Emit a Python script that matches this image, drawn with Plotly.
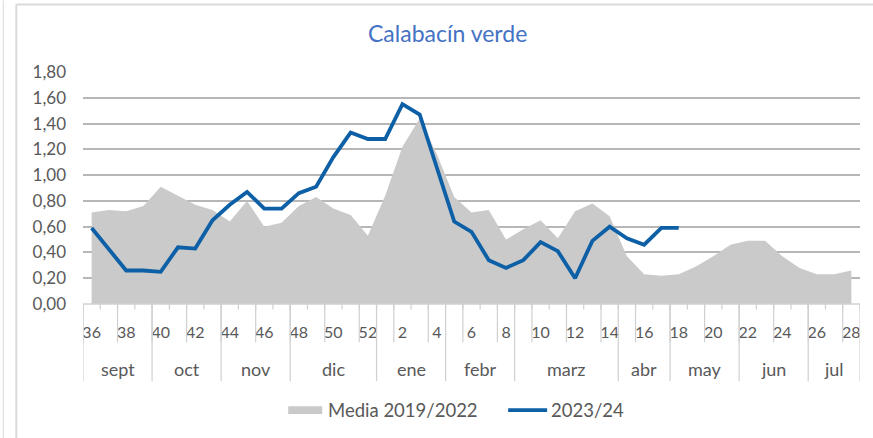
import plotly.graph_objects as go

# ---- data ----
weeks = [36, 37, 38, 39, 40, 41, 42, 43, 44, 45, 46, 47, 48, 49, 50, 51, 52,
         1, 2, 3, 4, 5, 6, 7, 8, 9, 10, 11, 12, 13, 14, 15, 16, 17, 18, 19, 20,
         21, 22, 23, 24, 25, 26, 27, 28]
media_2019_2022 = [0.71, 0.73, 0.72, 0.76, 0.91, 0.84, 0.77, 0.73, 0.64, 0.80,
                   0.60, 0.63, 0.76, 0.83, 0.74, 0.69, 0.53,
                   0.84, 1.22, 1.44, 1.16, 0.83, 0.71, 0.73, 0.50, 0.58, 0.65,
                   0.51, 0.72, 0.78, 0.68, 0.37, 0.23, 0.22, 0.23, 0.29, 0.37,
                   0.46, 0.49, 0.49, 0.37, 0.28, 0.23, 0.23, 0.26]
season_2023_24 = [0.59, 0.42, 0.26, 0.26, 0.25, 0.44, 0.43, 0.65, 0.77, 0.87,
                  0.74, 0.74, 0.86, 0.91, 1.14, 1.33, 1.28,
                  1.28, 1.55, 1.47, 1.06, 0.64, 0.56, 0.34, 0.28, 0.34, 0.48,
                  0.41, 0.20, 0.49, 0.60, 0.51, 0.46, 0.59, 0.59]
months = ["sept", "oct", "nov", "dic", "ene", "febr", "marz", "abr", "may", "jun", "jul"]
month_lengths = [4, 4, 4, 5, 4, 4, 6, 3, 4, 4, 3]
y_ticks = [0, 0.2, 0.4, 0.6, 0.8, 1.0, 1.2, 1.4, 1.6, 1.8]
title_text = "Calabacín verde"
legend_names = ["Media 2019/2022", "2023/24"]

FONT = "Lato, 'Open Sans', sans-serif"
TXT = "#595959"
GRAY_FILL = "#cacaca"
BLUE = "#0d5fa6"
LINECOL = "#d0d0d0"

xs = list(range(len(weeks)))
tick_idx = [i for i, w in enumerate(weeks) if w % 2 == 0]

fig = go.Figure()
fig.add_trace(go.Scatter(x=xs, y=media_2019_2022, mode="lines", fill="tozeroy",
                         line=dict(width=0, color=GRAY_FILL), fillcolor=GRAY_FILL,
                         name=legend_names[0], hoverinfo="x+y"))
fig.add_trace(go.Scatter(x=xs[:len(season_2023_24)], y=season_2023_24, mode="lines",
                         line=dict(width=3.8, color=BLUE), name=legend_names[1]))

# pixel geometry helpers (plot area 82.7..860 x, 71.7..304.5 y)
L, R, T, B = 82.7, 860.0, 71.7, 304.5
def px2py(p):
    return (B - p) / (B - T)
def px2px(p):
    return (p - L) / (R - L)

shapes = []
n = len(weeks)
# axis baseline
shapes.append(dict(type="line", xref="x", yref="paper", x0=-0.5, x1=n - 0.5,
                   y0=0, y1=0, line=dict(color=LINECOL, width=1.5)))
# short ticks at every category boundary
for k in range(n + 1):
    shapes.append(dict(type="line", xref="x", yref="paper", x0=k - 0.5, x1=k - 0.5,
                       y0=0, y1=px2py(310), line=dict(color=LINECOL, width=1.2)))
# label pair boundaries
for k in range(0, n + 1, 2):
    xb = min(k, n) - 0.5
    shapes.append(dict(type="line", xref="x", yref="paper", x0=xb, x1=xb,
                       y0=0, y1=px2py(343), line=dict(color=LINECOL, width=1.2)))
# month separators
bounds = [-0.5]
for m in month_lengths:
    bounds.append(bounds[-1] + m)
for xb in bounds:
    shapes.append(dict(type="line", xref="x", yref="paper", x0=xb, x1=xb,
                       y0=0, y1=px2py(382), line=dict(color=LINECOL, width=1.2)))

# chart border
shapes.append(dict(type="line", xref="paper", yref="paper", x0=px2px(16), x1=px2px(16),
                   y0=px2py(4), y1=px2py(440), line=dict(color="#d9d9d9", width=2)))
shapes.append(dict(type="line", xref="paper", yref="paper", x0=px2px(16), x1=px2px(875),
                   y0=px2py(4), y1=px2py(4), line=dict(color="#d9d9d9", width=2)))
shapes.append(dict(type="line", xref="paper", yref="paper", x0=px2px(3), x1=px2px(3),
                   y0=px2py(0), y1=px2py(440), line=dict(color="#e4e4e4", width=1.5)))

# legend (manual)
shapes.append(dict(type="rect", xref="paper", yref="paper", x0=px2px(288), x1=px2px(322),
                   y0=px2py(415), y1=px2py(407), fillcolor=GRAY_FILL, line=dict(width=0)))
shapes.append(dict(type="line", xref="paper", yref="paper", x0=px2px(508), x1=px2px(547),
                   y0=px2py(411), y1=px2py(411), line=dict(color=BLUE, width=3.8)))

annotations = []
for i, m in enumerate(months):
    cx = (bounds[i] + bounds[i + 1]) / 2
    annotations.append(dict(x=cx, y=px2py(370), xref="x", yref="paper", text=m,
                            showarrow=False, xanchor="center", yanchor="middle",
                            font=dict(family=FONT, size=18, color=TXT)))
annotations.append(dict(x=px2px(326), y=px2py(411), xref="paper", yref="paper",
                        text=legend_names[0], showarrow=False, xanchor="left",
                        yanchor="middle", font=dict(family=FONT, size=18.5, color=TXT)))
annotations.append(dict(x=px2px(549), y=px2py(411), xref="paper", yref="paper",
                        text=legend_names[1], showarrow=False, xanchor="left",
                        yanchor="middle", font=dict(family=FONT, size=18.5, color=TXT)))
annotations.append(dict(x=px2px(447.5), y=px2py(33), xref="paper", yref="paper",
                        text=title_text, showarrow=False, xanchor="center",
                        yanchor="middle", font=dict(family=FONT, size=23, color="#4472c4")))

fig.update_layout(
    width=873, height=438,
    margin=dict(l=L, r=873 - R, t=T, b=438 - B, pad=0),
    paper_bgcolor="white", plot_bgcolor="white",
    showlegend=False,
    separators=",.",
    shapes=shapes, annotations=annotations,
    xaxis=dict(range=[-0.5, n - 0.5], tickmode="array", tickvals=tick_idx,
               ticktext=[str(weeks[i]) for i in tick_idx], showgrid=False,
               zeroline=False, showline=False, ticks="",
               tickfont=dict(family=FONT, size=16, color=TXT),
               ticklabelstandoff=17, fixedrange=True),
    yaxis=dict(range=[0, 1.8], tickmode="array", tickvals=y_ticks, tickformat=".2f",
               showgrid=True, gridcolor="#b7b7b7", gridwidth=1.5, zeroline=False,
               showline=False, ticks="", tickfont=dict(family=FONT, size=17, color=TXT),
               ticklabelstandoff=16, fixedrange=True),
)

fig.write_html("out.html", config={"displayModeBar": False},
               post_script="document.body.style.margin='0';document.body.style.overflow='hidden';")
